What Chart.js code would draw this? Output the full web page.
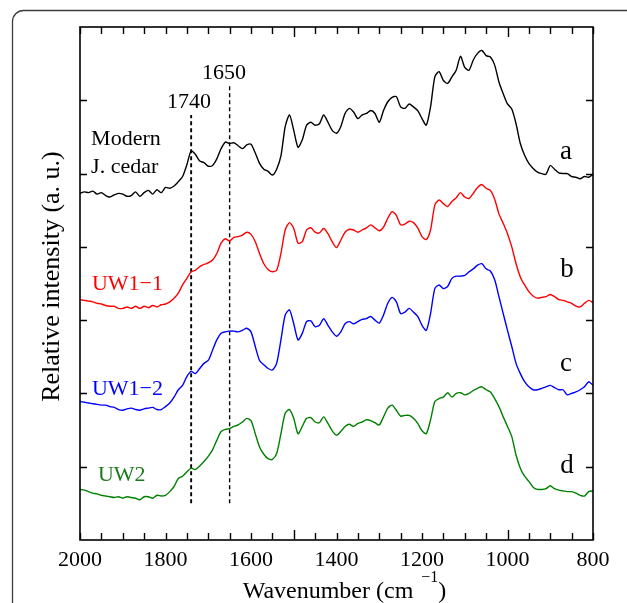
<!DOCTYPE html>
<html>
<head>
<meta charset="utf-8">
<script src="https://cdn.jsdelivr.net/npm/chart.js@4.4.1/dist/chart.umd.min.js"></script>
<style>
  html, body { margin: 0; padding: 0; background: #fff; }
  #wrap { width: 627px; height: 603px; }
</style>
</head>
<body>
<div id="wrap"><canvas id="myChart" width="627" height="603"></canvas></div>
<script>
// wavenumber grid (cm-1)
const wavenumbers = [
  2000, 1990, 1980, 1970, 1960, 1950, 1940, 1930, 1920, 1910,
  1900, 1890, 1880, 1870, 1860, 1850, 1840, 1830, 1820, 1810,
  1800, 1790, 1780, 1770, 1760, 1750, 1740, 1730, 1720, 1710,
  1700, 1690, 1680, 1670, 1660, 1650, 1640, 1630, 1620, 1610,
  1600, 1590, 1580, 1570, 1560, 1550, 1540, 1530, 1520, 1510,
  1500, 1490, 1480, 1470, 1460, 1450, 1440, 1430, 1420, 1410,
  1400, 1390, 1380, 1370, 1360, 1350, 1340, 1330, 1320, 1310,
  1300, 1290, 1280, 1270, 1260, 1250, 1240, 1230, 1220, 1210,
  1200, 1190, 1180, 1170, 1160, 1150, 1140, 1130, 1120, 1110,
  1100, 1090, 1080, 1070, 1060, 1050, 1040, 1030, 1020, 1010,
  1000, 990, 980, 970, 960, 950, 940, 930, 920, 910,
  900, 890, 880, 870, 860, 850, 840, 830, 820, 810,
  800
];

// a: Modern J. cedar
const modernCedar = [
  47.3, 47.5, 47.4, 47.6, 47.2, 47.4, 47.0, 46.8, 47.1, 47.3,
  47.2, 46.9, 47.0, 47.5, 46.9, 47.4, 47.7, 47.2, 47.8, 47.4,
  48.1, 48.0, 48.3, 48.9, 49.6, 51.2, 53.1, 52.6, 51.7, 51.5,
  51.0, 51.1, 52.0, 53.4, 54.3, 54.1, 54.2, 53.8, 53.4, 53.9,
  54.0, 52.8, 51.4, 50.6, 50.3, 49.8, 50.6, 52.4, 56.4, 58.0,
  55.9, 53.6, 54.6, 56.6, 57.0, 56.6, 56.8, 58.0, 57.0, 55.9,
  55.5, 56.4, 58.2, 58.9, 58.4, 57.5, 58.0, 58.2, 58.6, 58.2,
  57.0, 58.6, 59.8, 60.4, 60.5, 59.1, 58.9, 59.5, 59.1, 58.6,
  57.5, 56.6, 59.1, 63.2, 63.9, 62.7, 62.3, 63.2, 64.1, 66.0,
  64.5, 64.1, 65.5, 66.4, 66.8, 66.1, 65.9, 64.8, 62.5, 60.9,
  59.5, 58.8, 56.8, 54.1, 52.5, 51.4, 50.7, 50.2, 50.0, 49.9,
  51.1, 50.6, 50.1, 50.0, 50.0, 49.6, 49.5, 49.3, 49.6, 49.5,
  49.9
];

// b: UW1-1
const uw11 = [
  32.8, 32.7, 32.6, 32.5, 32.3, 32.2, 32.0, 31.9, 31.9, 31.6,
  31.6, 31.8, 31.6, 31.9, 31.6, 31.9, 31.7, 32.0, 31.8, 32.1,
  32.2, 32.5, 33.0, 33.7, 34.8, 35.7, 36.6, 36.8, 37.3, 37.6,
  37.8, 38.2, 39.1, 40.5, 41.1, 40.8, 41.3, 41.4, 41.6, 42.0,
  41.7, 40.7, 39.1, 37.7, 36.9, 36.6, 36.8, 39.1, 42.3, 43.3,
  42.5, 40.5, 40.7, 42.3, 42.6, 42.0, 41.9, 42.5, 41.8, 40.7,
  39.9, 40.9, 42.0, 42.4, 42.3, 42.0, 42.3, 42.6, 43.0, 42.6,
  42.2, 42.7, 43.9, 44.8, 44.3, 43.0, 43.1, 43.5, 43.3, 42.6,
  41.4, 41.0, 42.3, 45.7, 46.4, 45.9, 45.5, 46.2, 46.7, 47.4,
  46.8, 46.6, 47.3, 48.1, 48.5, 48.0, 47.7, 46.5, 44.5, 43.2,
  41.8, 40.0, 37.7, 35.9, 34.8, 33.9, 33.3, 33.0, 33.1, 33.2,
  33.5, 33.2, 32.8, 32.7, 32.5, 32.3, 31.9, 31.8, 32.3, 32.7,
  32.4
];

// c: UW1-2
const uw12 = [
  18.9, 18.8, 18.7, 18.6, 18.5, 18.4, 18.4, 18.2, 18.1, 17.8,
  17.7, 17.9, 18.0, 17.8, 17.7, 17.9, 18.0, 18.1, 17.8, 17.8,
  18.2, 18.7, 19.5, 20.5, 21.1, 22.3, 23.0, 22.7, 23.4, 24.1,
  24.5, 25.9, 27.3, 28.2, 28.4, 28.5, 28.5, 28.4, 28.6, 28.9,
  28.4, 26.4, 24.5, 23.9, 23.4, 23.2, 24.1, 27.3, 30.7, 31.4,
  29.5, 27.3, 28.2, 29.8, 29.9, 29.1, 29.3, 30.2, 29.3, 28.4,
  27.8, 28.4, 29.5, 29.8, 29.5, 29.8, 30.1, 30.2, 30.5, 30.0,
  29.6, 30.7, 32.3, 33.1, 32.5, 30.9, 31.1, 31.6, 31.1, 30.5,
  29.3, 28.6, 30.9, 34.3, 34.8, 34.3, 34.6, 35.7, 36.0, 36.0,
  36.1, 36.6, 37.0, 37.5, 37.7, 37.0, 36.7, 35.5, 33.2, 30.9,
  28.6, 26.4, 24.1, 22.7, 21.6, 20.9, 20.5, 20.5, 20.7, 20.9,
  21.1, 20.8, 20.5, 20.5, 19.8, 20.0, 20.2, 20.5, 20.9, 21.6,
  21.1
];

// d: UW2
const uw2 = [
  6.9, 6.8, 6.6, 6.4, 6.3, 6.1, 6.0, 5.9, 5.8, 5.9,
  5.7, 5.9, 5.8, 5.7, 5.5, 5.9, 5.9, 5.7, 6.1, 6.0,
  6.1, 6.6, 7.3, 8.4, 8.7, 9.3, 9.8, 9.6, 10.1, 10.7,
  11.4, 12.3, 13.6, 14.8, 15.1, 15.2, 15.5, 15.7, 16.1, 16.6,
  16.3, 14.5, 12.7, 11.7, 11.1, 11.0, 11.8, 14.5, 17.3, 17.8,
  16.6, 14.5, 15.5, 16.6, 16.7, 16.1, 16.0, 16.8, 15.9, 14.9,
  14.3, 14.8, 15.5, 15.8, 15.5, 15.9, 16.1, 16.4, 16.3, 16.0,
  15.7, 16.8, 18.0, 18.4, 17.7, 16.9, 17.0, 17.0, 16.6, 15.9,
  14.9, 14.5, 16.4, 18.9, 19.3, 19.5, 20.1, 19.5, 20.0, 20.1,
  19.8, 20.0, 20.4, 20.7, 20.9, 20.5, 20.2, 19.3, 18.2, 16.8,
  15.5, 14.1, 11.6, 9.8, 8.7, 8.0, 7.2, 6.9, 6.9, 7.0,
  7.4, 7.0, 6.8, 6.7, 6.6, 6.6, 6.4, 6.1, 6.0, 6.6,
  6.7
];

// marker lines (wavenumber, top of the dashed line)
const markerWavenumbers = [1740, 1650];
const markerTops = [58.0, 61.9];
const markerBottom = 5.0;

// ticks
const xTickLabels = [2000, 1800, 1600, 1400, 1200, 1000, 800];
const xMinorTicks = [
  2000, 1950, 1900, 1850, 1800, 1750, 1700, 1650, 1600, 1550, 1500, 1450, 1400,
  1350, 1300, 1250, 1200, 1150, 1100, 1050, 1000, 950, 900, 850, 800
];
const xLongTicks = [1500, 1000];
const yTicks = [10, 20, 30, 40, 50, 60];

const serif = '"Liberation Serif", "Times New Roman", serif';

// text labels placed in data coordinates
const annotations = [
  { text: '1650', x: 1663, y: 62.9, size: 22, color: '#000', align: 'center' },
  { text: '1740', x: 1745, y: 58.9, size: 22, color: '#000', align: 'center' },
  { text: 'Modern', x: 1974, y: 53.9, size: 22, color: '#000', align: 'left' },
  { text: 'J. cedar', x: 1974, y: 50.1, size: 22, color: '#000', align: 'left' },
  { text: 'a', x: 863, y: 52.0, size: 27, color: '#000', align: 'center' },
  { text: 'b', x: 861, y: 35.9, size: 27, color: '#000', align: 'center' },
  { text: 'c', x: 863, y: 23.0, size: 27, color: '#000', align: 'center' },
  { text: 'd', x: 861, y: 9.1, size: 27, color: '#000', align: 'center' },
  { text: 'UW1\u22121', x: 1972, y: 34.1, size: 22, color: '#ff0000', align: 'left' },
  { text: 'UW1\u22122', x: 1972, y: 19.8, size: 22, color: '#0000ff', align: 'left' },
  { text: 'UW2', x: 1958, y: 8.0, size: 22, color: '#1a7a1a', align: 'left' }
];

function toPoints(values) {
    return wavenumbers.map((wn, i) => ({ x: wn, y: values[i] }));
}

function spectrum(values, color) {
    return {
        data: toPoints(values),
        borderColor: color,
        borderWidth: 1.4,
        pointRadius: 0,
        tension: 0.25,
        fill: false
    };
}

function markerLine(i) {
    return {
        data: [
            { x: markerWavenumbers[i], y: markerBottom },
            { x: markerWavenumbers[i], y: markerTops[i] }
        ],
        borderColor: '#000',
        borderWidth: i === 0 ? 1.9 : 1.4,
        borderDash: [4, 3],
        pointRadius: 0,
        fill: false
    };
}

const framePlugin = {
    id: 'framePlugin',
    beforeDraw(chart) {
        const ctx = chart.ctx;
        ctx.save();
        ctx.strokeStyle = '#3c3c3c';
        ctx.lineWidth = 1.3;
        ctx.beginPath();
        ctx.roundRect(12.5, 10.5, 650, 640, 11);
        ctx.stroke();
        ctx.restore();
    },
    afterDatasetsDraw(chart) {
        const ctx = chart.ctx;
        const area = chart.chartArea;
        const xs = chart.scales.x;
        const ys = chart.scales.y;

        ctx.save();
        ctx.strokeStyle = '#000';
        ctx.lineWidth = 1.6;
        ctx.strokeRect(area.left, area.top, area.right - area.left, area.bottom - area.top);

        // inward ticks
        ctx.lineWidth = 1.4;
        ctx.beginPath();
        xMinorTicks.forEach(v => {
            const px = Math.round(xs.getPixelForValue(v)) + 0.5;
            const len = xLongTicks.includes(v) ? 10 : 7;
            ctx.moveTo(px, area.bottom);
            ctx.lineTo(px, area.bottom - len);
            ctx.moveTo(px, area.top);
            ctx.lineTo(px, area.top + len);
        });
        yTicks.forEach(v => {
            const py = Math.round(ys.getPixelForValue(v)) + 0.5;
            ctx.moveTo(area.left, py);
            ctx.lineTo(area.left + 7, py);
            ctx.moveTo(area.right, py);
            ctx.lineTo(area.right - 7, py);
        });
        ctx.stroke();

        // tick labels
        ctx.fillStyle = '#000';
        ctx.font = '22px ' + serif;
        ctx.textAlign = 'center';
        ctx.textBaseline = 'alphabetic';
        xTickLabels.forEach(v => {
            ctx.fillText(String(v), xs.getPixelForValue(v), area.bottom + 26);
        });

        // x axis title with superscript
        const mainText = 'Wavenumber (cm';
        const supText = '\u22121';
        ctx.font = '24px ' + serif;
        const w1 = ctx.measureText(mainText).width;
        const w3 = ctx.measureText(')').width;
        ctx.font = '16px ' + serif;
        const w2 = ctx.measureText(supText).width;
        const gap = 8;
        const total = w1 + gap + w2 + w3;
        let startX = (area.left + area.right) / 2 - total / 2 + 8;
        const baseY = area.bottom + 58;
        ctx.textAlign = 'left';
        ctx.font = '24px ' + serif;
        ctx.fillText(mainText, startX, baseY);
        ctx.font = '16px ' + serif;
        ctx.fillText(supText, startX + w1 + gap, baseY - 16);
        ctx.font = '24px ' + serif;
        ctx.fillText(')', startX + w1 + gap + w2, baseY);

        // y axis title
        ctx.save();
        ctx.translate(area.left - 21, (area.top + area.bottom) / 2 - 7);
        ctx.rotate(-Math.PI / 2);
        ctx.textAlign = 'center';
        ctx.font = '26px ' + serif;
        ctx.fillText('Relative intensity (a. u.)', 0, 0);
        ctx.restore();

        // series and band labels
        annotations.forEach(a => {
            ctx.font = a.size + 'px ' + serif;
            ctx.fillStyle = a.color;
            ctx.textAlign = a.align;
            ctx.fillText(a.text, xs.getPixelForValue(a.x), ys.getPixelForValue(a.y));
        });
        ctx.restore();
    }
};

function createChart() {
    const ctx = document.getElementById('myChart').getContext('2d');
    return new Chart(ctx, {
        type: 'line',
        data: {
            datasets: [
                spectrum(modernCedar, '#000000'),
                spectrum(uw11, '#ff0000'),
                spectrum(uw12, '#0000ff'),
                spectrum(uw2, '#008000'),
                markerLine(0),
                markerLine(1)
            ]
        },
        options: {
            responsive: false,
            animation: false,
            devicePixelRatio: 1,
            layout: {
                padding: { left: 80, right: 34, top: 27, bottom: 63 }
            },
            plugins: {
                legend: { display: false },
                tooltip: { enabled: false }
            },
            scales: {
                x: {
                    type: 'linear',
                    reverse: true,
                    min: 800,
                    max: 2000,
                    display: false
                },
                y: {
                    type: 'linear',
                    min: 0,
                    max: 70,
                    display: false
                }
            }
        },
        plugins: [framePlugin]
    });
}

let chart = createChart();
</script>
</body>
</html>
